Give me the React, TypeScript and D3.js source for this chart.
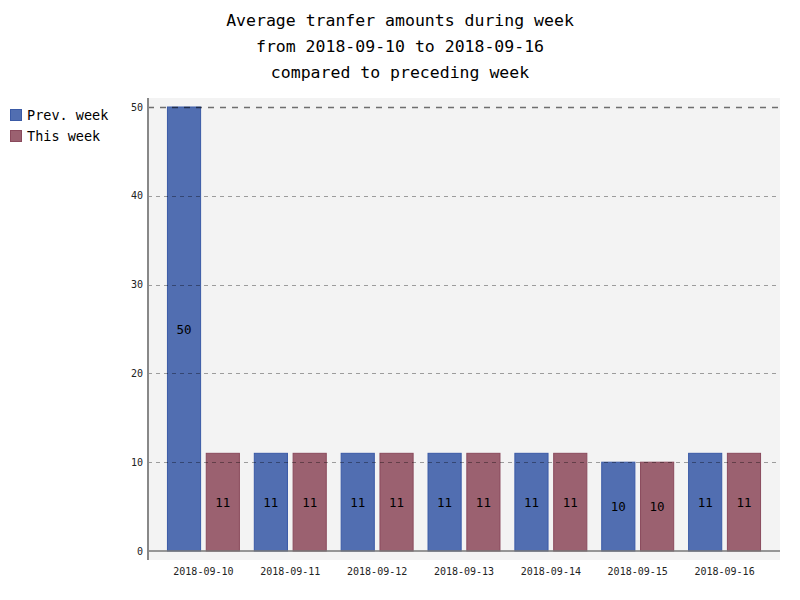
import React, { useRef, useEffect } from 'react';
import * as d3 from 'd3';

const dates = ['2018-09-10', '2018-09-11', '2018-09-12', '2018-09-13', '2018-09-14', '2018-09-15', '2018-09-16'];
const prevWeek = [50, 11, 11, 11, 11, 10, 11];
const thisWeek = [11, 11, 11, 11, 11, 10, 11];
const seriesNames = ['Prev. week', 'This week'];
const yTicks = [0, 10, 20, 30, 40, 50];
const titleLines = [
  'Average tranfer amounts during week',
  'from 2018-09-10 to 2018-09-16',
  'compared to preceding week',
];

const FILLS = ['#516eb1', '#9b6170'];
const STROKES = ['#3a5aa6', '#8a4a5c'];
const MONO = "'DejaVu Sans Mono', monospace";

const App: React.FC = () => {
  const ref = useRef<SVGSVGElement | null>(null);

  useEffect(() => {
    const width = 800;
    const height = 600;
    const svg = d3.select(ref.current);
    svg.selectAll('*').remove();

    // title
    svg.append('g')
      .selectAll('text')
      .data(titleLines)
      .join('text')
      .attr('x', width / 2)
      .attr('y', (_, i) => 26 + i * 26)
      .attr('text-anchor', 'middle')
      .attr('font-family', MONO)
      .attr('font-size', '16.5px')
      .attr('fill', '#000')
      .text(d => d);

    // legend
    const legend = svg.append('g');
    seriesNames.forEach((name, i) => {
      legend.append('rect')
        .attr('x', 10.5)
        .attr('y', 109.5 + i * 21)
        .attr('width', 11)
        .attr('height', 11)
        .attr('fill', FILLS[i])
        .attr('stroke', STROKES[i])
        .attr('stroke-width', 1);
      legend.append('text')
        .attr('x', 27)
        .attr('y', 119.5 + i * 21)
        .attr('font-family', MONO)
        .attr('font-size', '13.5px')
        .attr('fill', '#000')
        .text(name);
    });

    // plot background
    const plot = { left: 148, right: 780, top: 98, bottom: 560 };
    svg.append('rect')
      .attr('x', plot.left)
      .attr('y', plot.top)
      .attr('width', plot.right - plot.left)
      .attr('height', plot.bottom - plot.top)
      .attr('fill', '#f3f3f3');

    const y = d3.scaleLinear().domain([0, 50]).range([551, 107]);
    const x0 = d3.scaleBand<string>().domain(dates).range([160, 768]).paddingInner(0.16).paddingOuter(0.08);
    const x1 = d3.scaleBand<string>().domain(seriesNames).range([0, x0.bandwidth()]).paddingInner(0.12);

    // bars
    const values = [prevWeek, thisWeek];
    const bars = svg.append('g');
    seriesNames.forEach((name, si) => {
      bars.selectAll(`rect.s${si}`)
        .data(values[si])
        .join('rect')
        .attr('class', `s${si}`)
        .attr('x', (_, i) => (x0(dates[i]) as number) + (x1(name) as number) + 0.5)
        .attr('y', d => y(d))
        .attr('width', x1.bandwidth() - 1)
        .attr('height', d => y(0) - y(d))
        .attr('fill', FILLS[si])
        .attr('stroke', STROKES[si])
        .attr('stroke-width', 1);
    });

    // guides
    const guides = svg.append('g');
    yTicks.filter(t => t > 0).forEach(t => {
      const major = t === 50;
      guides.append('line')
        .attr('x1', plot.left)
        .attr('x2', plot.right)
        .attr('y1', Math.round(y(t)) + 0.5)
        .attr('y2', Math.round(y(t)) + 0.5)
        .attr('stroke', major ? '#000' : '#000')
        .attr('stroke-opacity', major ? 0.55 : 0.4)
        .attr('stroke-width', major ? 1.3 : 0.9)
        .attr('stroke-dasharray', major ? '6,6' : '4,4');
    });

    // value labels
    const labels = svg.append('g');
    seriesNames.forEach((name, si) => {
      labels.selectAll(`text.v${si}`)
        .data(values[si])
        .join('text')
        .attr('class', `v${si}`)
        .attr('x', (_, i) => (x0(dates[i]) as number) + (x1(name) as number) + x1.bandwidth() / 2)
        .attr('y', d => (y(d) + y(0)) / 2 + 4.5)
        .attr('text-anchor', 'middle')
        .attr('font-family', MONO)
        .attr('font-size', '12.5px')
        .attr('fill', '#000')
        .text(d => d);
    });

    // axes
    svg.append('line')
      .attr('x1', plot.left)
      .attr('x2', plot.right)
      .attr('y1', y(0))
      .attr('y2', y(0))
      .attr('stroke', '#777')
      .attr('stroke-width', 1.5);
    svg.append('line')
      .attr('x1', plot.left)
      .attr('x2', plot.left)
      .attr('y1', plot.top)
      .attr('y2', plot.bottom)
      .attr('stroke', '#888')
      .attr('stroke-width', 2);

    // y tick labels
    svg.append('g')
      .selectAll('text')
      .data(yTicks)
      .join('text')
      .attr('x', 143)
      .attr('y', d => y(d) + 3.5)
      .attr('text-anchor', 'end')
      .attr('font-family', MONO)
      .attr('font-size', '10px')
      .attr('fill', '#222')
      .text(d => d);

    // x tick labels
    svg.append('g')
      .selectAll('text')
      .data(dates)
      .join('text')
      .attr('x', d => (x0(d) as number) + x0.bandwidth() / 2)
      .attr('y', 575)
      .attr('text-anchor', 'middle')
      .attr('font-family', MONO)
      .attr('font-size', '10px')
      .attr('fill', '#222')
      .text(d => d);
  }, []);

  return (
    <svg
      ref={ref}
      width={800}
      height={600}
      style={{ position: 'absolute', left: 0, top: 0, background: '#fff' }}
    />
  );
};

export default App;
